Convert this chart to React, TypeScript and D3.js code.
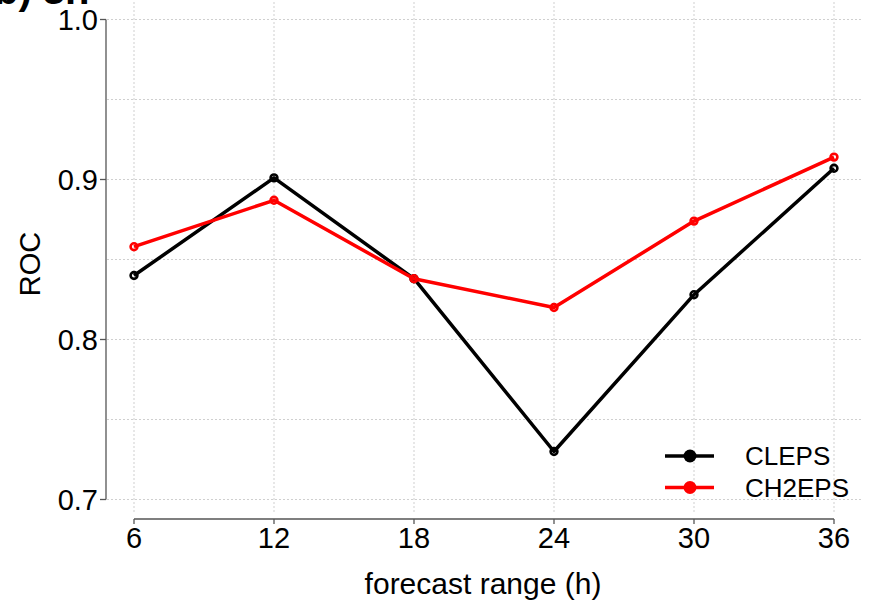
import React from "react";
import * as d3 from "d3";

const hours = [6, 12, 18, 24, 30, 36];
const cleps = [0.84, 0.901, 0.838, 0.73, 0.828, 0.907];
const ch2eps = [0.858, 0.887, 0.838, 0.82, 0.874, 0.914];
const yTicks = [0.7, 0.8, 0.9, 1.0];
const yGrid = [0.7, 0.75, 0.8, 0.85, 0.9, 0.95, 1.0];
const seriesNames = ["CLEPS", "CH2EPS"];
const seriesColors = ["#000000", "#ff0000"];

export default function App() {
  const W = 877, H = 601;
  const x = d3.scaleLinear().domain([6, 36]).range([134, 834]);
  const y = d3.scaleLinear().domain([0.7, 1.0]).range([499.5, 19.5]);
  const panel = { x0: 107, x1: 861, y0: -10, y1: 512 };
  const axisY = 519;
  const axisX = 106;
  const font = "'Liberation Sans', Arial, Helvetica, sans-serif";
  const line = d3
    .line<[number, number]>()
    .x((d) => x(d[0]))
    .y((d) => y(d[1]));
  const series = [cleps, ch2eps];

  return (
    <svg
      width={W}
      height={H}
      style={{ position: "absolute", left: 0, top: 0, background: "#fff" }}
      fontFamily={font}
    >
      <rect x={0} y={0} width={W} height={H} fill="#fff" />
      {/* cut-off panel title */}
      <text x={-6} y={4} fontSize={40} fontWeight="bold" fill="#000">
        b) 3h
      </text>
      {/* grid */}
      <g stroke="#cfcfcf" strokeWidth={1} strokeDasharray="2,2">
        {yGrid.map((v) => (
          <line key={"h" + v} x1={panel.x0} x2={panel.x1} y1={y(v)} y2={y(v)} />
        ))}
        {hours.map((h) => (
          <line key={"v" + h} x1={x(h)} x2={x(h)} y1={panel.y0} y2={panel.y1} />
        ))}
      </g>
      {/* axes */}
      <g stroke="#555" strokeWidth={1.3} fill="none">
        <line x1={axisX} x2={axisX} y1={y(1.0)} y2={y(0.7)} />
        {yTicks.map((v) => (
          <line key={"yt" + v} x1={axisX - 6} x2={axisX} y1={y(v)} y2={y(v)} />
        ))}
        <line x1={x(6)} x2={x(36)} y1={axisY} y2={axisY} />
        {hours.map((h) => (
          <line key={"xt" + h} x1={x(h)} x2={x(h)} y1={axisY} y2={axisY + 5} />
        ))}
      </g>
      {yTicks.map((v) => (
        <text
          key={"yl" + v}
          x={axisX - 8}
          y={y(v)}
          fontSize={29}
          textAnchor="end"
          dominantBaseline="central"
          fill="#000"
        >
          {v.toFixed(1)}
        </text>
      ))}
      {hours.map((h) => (
        <text
          key={"xl" + h}
          x={x(h)}
          y={548}
          fontSize={29}
          textAnchor="middle"
          fill="#000"
        >
          {h}
        </text>
      ))}
      <text x={483} y={594} fontSize={30} textAnchor="middle" fill="#000">
        forecast range (h)
      </text>
      <text
        transform={`translate(40,264) rotate(-90)`}
        fontSize={29}
        textAnchor="middle"
        fill="#000"
      >
        ROC
      </text>
      {/* series */}
      {series.map((vals, i) => {
        const pts = hours.map((h, j) => [h, vals[j]] as [number, number]);
        return (
          <g key={"s" + i}>
            <path
              d={line(pts) || ""}
              fill="none"
              stroke={seriesColors[i]}
              strokeWidth={3.5}
              strokeLinejoin="round"
            />
            {pts.map((p, j) => (
              <circle
                key={j}
                cx={x(p[0])}
                cy={y(p[1])}
                r={3.4}
                fill="none"
                stroke={seriesColors[i]}
                strokeWidth={2.6}
              />
            ))}
          </g>
        );
      })}
      {/* legend */}
      {seriesNames.map((name, i) => {
        const ly = 456 + i * 31.5;
        return (
          <g key={"lg" + i}>
            <line x1={665} x2={714} y1={ly} y2={ly} stroke={seriesColors[i]} strokeWidth={3.5} />
            <circle cx={690} cy={ly} r={6.5} fill={seriesColors[i]} />
            <text
              x={745}
              y={ly}
              fontSize={26}
              dominantBaseline="central"
              fill="#000"
            >
              {name}
            </text>
          </g>
        );
      })}
    </svg>
  );
}
